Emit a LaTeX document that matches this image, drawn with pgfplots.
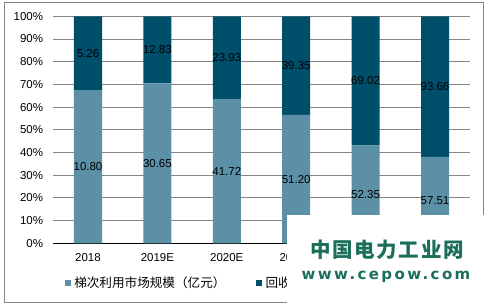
\documentclass[border=0pt]{standalone}
\usepackage{pgfplots}
\usepackage{pgfplotstable}
\pgfplotsset{compat=1.18}
\usepackage{fontspec}
\setmainfont{Liberation Sans}
\newfontfamily\cjk{Noto Sans CJK SC}
\newfontfamily\wmfont[LetterSpace=16]{DejaVu Sans}
\newfontfamily\cjkwm[LetterSpace=8]{Noto Sans CJK SC}
\definecolor{lightc}{RGB}{91,144,166}
\definecolor{darkc}{RGB}{0,79,106}
\definecolor{gridc}{RGB}{134,134,128}
\definecolor{framec}{RGB}{134,134,134}
\definecolor{wmgreen}{RGB}{26,110,90}

\pgfplotstableread{
x pa pb la lb
0 67.248 32.752 10.80 5.26
1 70.492 29.508 30.65 12.83
2 63.549 36.451 41.72 23.93
3 56.543 43.457 51.20 39.35
4 43.132 56.868 52.35 69.02
5 38.043 61.957 57.51 93.66
}\data

\begin{document}
\begin{tikzpicture}
\useasboundingbox (0,0) rectangle (487bp,306bp);
\draw[framec, line width=0.8bp] (4.5bp,4bp) rectangle (483bp,304bp);
\begin{axis}[
  at={(53.3bp,62.7bp)}, anchor=south west,
  scale only axis, width=416.4bp, height=227bp,
  ybar stacked, bar width=28bp,
  xmin=-0.5, xmax=5.5, ymin=0, ymax=100,
  enlargelimits=false,
  xtick={0,...,5},
  xticklabels={2018,2019E,2020E,2021E,2022E,2023E},
  ytick={0,10,...,100},
  yticklabel={\pgfmathprintnumber{\tick}\%},
  /pgf/number format/assume math mode=true,
  ymajorgrids, grid style={gridc, line width=0.8bp},
  major tick length=0pt,
  axis x line*=bottom, axis y line*=left,
  x axis line style={black, line width=0.8bp},
  y axis line style={draw=none},
  tick label style={font=\fontsize{11.5bp}{13bp}\selectfont, text=black},
  yticklabel style={anchor=east, inner sep=0pt, xshift=-10bp},
  xticklabel style={anchor=north, inner sep=0pt, yshift=-10bp},
  legend columns=2,
  legend style={at={(0.028,-0.175)}, anchor=west, draw=none, fill=none,
    inner sep=0pt, font=\cjk\fontsize{12.6bp}{14bp}\selectfont,
    nodes={inner sep=0pt, anchor=west},
    /tikz/every odd column/.append style={column sep=3.5bp},
    /tikz/every even column/.append style={column sep=31bp}},
]
\addplot[fill=lightc, draw=none,
  legend image code/.code={\fill[lightc] (0bp,-2.8bp) rectangle (5.6bp,2.8bp);}]
  table[x=x, y=pa] {\data};
\addlegendentry{梯次利用市场规模（亿元）}
\addplot[fill=darkc, draw=none,
  legend image code/.code={\fill[darkc] (0bp,-2.8bp) rectangle (5.6bp,2.8bp);}]
  table[x=x, y=pb] {\data};
\addlegendentry{回收拆解市场规模（亿元）}
\end{axis}
\begin{axis}[
  at={(53.3bp,62.7bp)}, anchor=south west,
  scale only axis, width=416.4bp, height=227bp,
  xmin=-0.5, xmax=5.5, ymin=0, ymax=100,
  hide axis, clip=false,
]
\addplot[draw=none, mark=none, nodes near coords, point meta=explicit symbolic,
  every node near coord/.style={anchor=center, inner sep=0pt, text=black,
    font=\fontsize{11.5bp}{13bp}\selectfont}]
  table[x=x, y expr=\thisrow{pa}/2, meta=la] {\data};
\addplot[draw=none, mark=none, nodes near coords, point meta=explicit symbolic,
  every node near coord/.style={anchor=center, inner sep=0pt, text=black,
    font=\fontsize{11.5bp}{13bp}\selectfont}]
  table[x=x, y expr=\thisrow{pa}+\thisrow{pb}/2, meta=lb] {\data};
\end{axis}
\fill[white] (287bp,0bp) rectangle (487bp,91bp);
\node[text=wmgreen, font=\cjkwm\bfseries\fontsize{20.5bp}{22bp}\selectfont] at (387bp,56bp) {中国电力工业网};
\node[text=wmgreen, font=\wmfont\bfseries\fontsize{15bp}{17bp}\selectfont] at (386bp,29bp) {www.cepow.com};
\end{tikzpicture}
\end{document}
